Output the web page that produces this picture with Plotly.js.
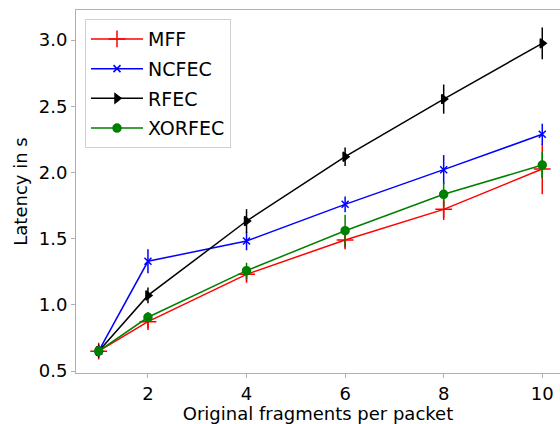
<!DOCTYPE html>
<html>
<head>
<meta charset="utf-8">
<script src="https://cdn.plot.ly/plotly-3.0.1.min.js"></script>
<style>html,body{margin:0;padding:0;overflow:hidden;background:#fff;}</style>
</head>
<body>
<div id="chart" style="width:560px;height:424px;"></div>
<script>
const fragments = [1, 2, 4, 6, 8, 10];
const seriesNames = ["MFF", "NCFEC", "RFEC", "XORFEC"];
const mff = [0.65, 0.873, 1.23, 1.49, 1.721, 2.026];
const mffErr = [0.04, 0.05, 0.05, 0.07, 0.08, 0.19];
const ncfec = [0.65, 1.329, 1.482, 1.759, 2.021, 2.288];
const ncfecErr = [0.04, 0.09, 0.07, 0.06, 0.11, 0.08];
const rfec = [0.65, 1.071, 1.633, 2.119, 2.554, 2.975];
const rfecErr = [0.05, 0.06, 0.09, 0.07, 0.11, 0.12];
const xorfec = [0.65, 0.906, 1.258, 1.56, 1.835, 2.056];
const xorfecErr = [0.04, 0.04, 0.06, 0.12, 0.09, 0.10];
const yTicks = [0.5, 1.0, 1.5, 2.0, 2.5, 3.0];
const xTicks = [2, 4, 6, 8, 10];

const colors = ["#ff0000", "#0000ff", "#000000", "#008000"];
const symbols = ["cross-thin", "x-thin", "triangle-right", "circle"];
const sizes = [12, 7, 8, 8];
const values = [mff, ncfec, rfec, xorfec];
const errs = [mffErr, ncfecErr, rfecErr, xorfecErr];

const traces = seriesNames.map((name, i) => ({
  type: "scatter",
  mode: "lines+markers",
  name: name,
  legendgroup: name,
  x: fragments,
  y: values[i],
  error_y: {type: "data", array: errs[i], visible: true, color: colors[i], thickness: 1.5, width: 0},
  line: {color: colors[i], width: 1.5},
  marker: {color: colors[i], symbol: symbols[i], size: sizes[i], line: {color: colors[i], width: 1.5}}
}));

const layout = {
  width: 560, height: 424,
  margin: {l: 76, r: 0, t: 10, b: 51},
  paper_bgcolor: "#ffffff",
  plot_bgcolor: "#ffffff",
  font: {family: "DejaVu Sans", size: 18, color: "#000000"},
  showlegend: true,
  legend: {
    x: 0.0186, y: 0.975, xanchor: "left", yanchor: "top",
    bgcolor: "#ffffff", bordercolor: "#d0d0d0", borderwidth: 1,
    font: {family: "DejaVu Sans", size: 19, color: "#000000"},
    traceorder: "grouped", tracegroupgap: 2,
    itemwidth: 52
  },
  xaxis: {
    range: [0.54, 10.36],
    tickvals: xTicks,
    ticktext: xTicks.map(String),
    showgrid: false, zeroline: false,
    showline: true, linecolor: "#b0b0b0", linewidth: 1, mirror: true,
    ticks: "outside", ticklen: 4, tickcolor: "#b0b0b0",
    tickfont: {family: "DejaVu Sans", size: 18},
    title: {text: "Original fragments per packet", font: {family: "DejaVu Sans", size: 18}, standoff: 2}
  },
  yaxis: {
    range: [0.485, 3.227],
    tickvals: yTicks,
    ticktext: yTicks.map(v => v.toFixed(1)),
    showgrid: false, zeroline: false,
    showline: true, linecolor: "#b0b0b0", linewidth: 1, mirror: false,
    ticks: "outside", ticklen: 4, tickcolor: "#b0b0b0",
    tickfont: {family: "DejaVu Sans", size: 18},
    title: {text: "Latency in s", font: {family: "DejaVu Sans", size: 18}, standoff: 6}
  }
};

Plotly.newPlot("chart", traces, layout, {displayModeBar: false, staticPlot: true});
</script>
</body>
</html>
